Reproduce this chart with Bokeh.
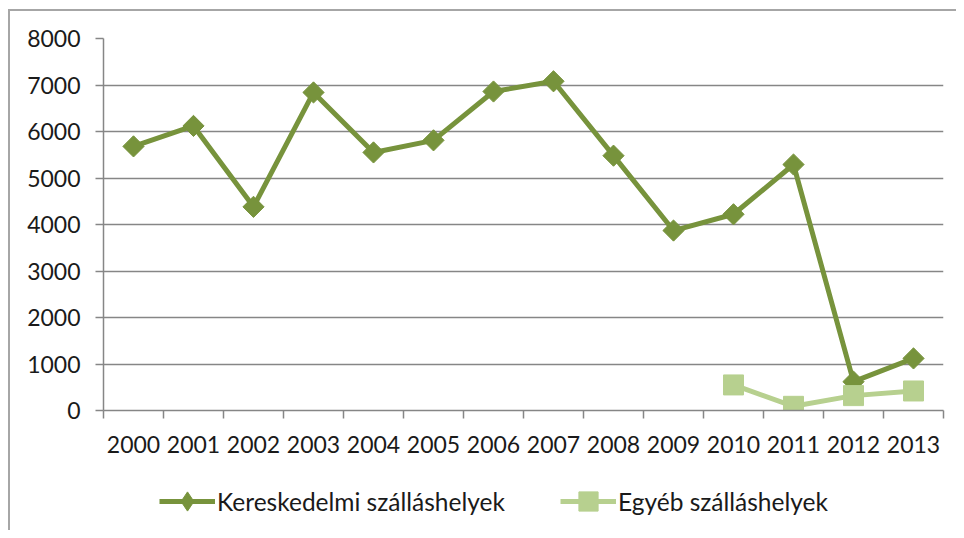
import math
from bokeh.plotting import figure
from bokeh.models import (ColumnDataSource, FixedTicker, Legend, LegendItem, Range1d)
from bokeh.layouts import column
from bokeh.embed import file_html
from bokeh.resources import INLINE

years = ["2000", "2001", "2002", "2003", "2004", "2005", "2006",
         "2007", "2008", "2009", "2010", "2011", "2012", "2013"]
kereskedelmi = [5680, 6120, 4380, 6840, 5550, 5810, 6860,
                7080, 5480, 3870, 4220, 5290, 620, 1120]
egyeb_years = ["2010", "2011", "2012", "2013"]
egyeb = [550, 90, 320, 420]
y_ticks = [0, 1000, 2000, 3000, 4000, 5000, 6000, 7000, 8000]
series_names = ["Kereskedelmi szálláshelyek", "Egyéb szálláshelyek"]

DARK = "#77933C"
LIGHT = "#B7D08F"
FONT = "Lato"
GRAY = "#868686"
TXT = "#1a1a1a"

idx = list(range(len(years)))
src1 = ColumnDataSource(dict(x=idx, y=kereskedelmi))
src2 = ColumnDataSource(dict(x=[years.index(y) for y in egyeb_years], y=egyeb))

W = 956
p = figure(width=W, height=470, output_backend="svg", toolbar_location=None,
           x_range=Range1d(-0.5, len(years) - 0.5), y_range=Range1d(0, 8000),
           min_border_left=103, min_border_right=13, min_border_top=38,
           min_border_bottom=60)
p.outline_line_color = None
p.background_fill_color = "white"
p.border_fill_alpha = 0

p.line("x", "y", source=src1, line_color=DARK, line_width=5)
p.scatter("x", "y", source=src1, marker="square", size=15, angle=math.pi / 4,
          fill_color=DARK, line_color=DARK)
p.line("x", "y", source=src2, line_color=LIGHT, line_width=5)
p.scatter("x", "y", source=src2, marker="square", size=20,
          fill_color=LIGHT, line_color=LIGHT)

xa = p.xaxis[0]
xa.ticker = FixedTicker(ticks=idx, minor_ticks=[i - 0.5 for i in range(len(years) + 1)])
xa.major_label_overrides = {i: y for i, y in enumerate(years)}
xa.major_tick_out = 0
xa.major_tick_in = 0
xa.minor_tick_out = 8
xa.minor_tick_in = 0
xa.minor_tick_line_color = GRAY
xa.minor_tick_line_width = 1.5
xa.axis_line_color = GRAY
xa.axis_line_width = 1.5
xa.major_label_text_font = FONT
xa.major_label_text_font_size = "23px"
xa.major_label_text_color = TXT
xa.major_label_standoff = 17

ya = p.yaxis[0]
ya.ticker = FixedTicker(ticks=y_ticks)
ya.major_tick_out = 8
ya.major_tick_in = 0
ya.minor_tick_out = 0
ya.minor_tick_in = 0
ya.major_tick_line_color = GRAY
ya.major_tick_line_width = 1.5
ya.axis_line_color = GRAY
ya.axis_line_width = 1.5
ya.major_label_text_font = FONT
ya.major_label_text_font_size = "23px"
ya.major_label_text_color = TXT
ya.major_label_standoff = 15

p.xgrid.grid_line_color = None
p.ygrid.ticker = FixedTicker(ticks=y_ticks)
p.ygrid.grid_line_color = GRAY
p.ygrid.grid_line_width = 1.5

# legend strip below the chart; its renderers share the data but the
# strip's ranges keep them out of view, so only the legend shows
q = figure(width=W, height=60, output_backend="svg", toolbar_location=None,
           x_range=Range1d(-100, -99), y_range=Range1d(-100, -99),
           x_axis_type=None, y_axis_type=None, min_border=0)
q.outline_line_color = None
q.background_fill_alpha = 0
q.border_fill_alpha = 0
k_l = q.line("x", "y", source=src1, line_color=DARK, line_width=5)
k_m = q.scatter("x", "y", source=src1, marker="diamond",
                fill_color=DARK, line_color=DARK)
e_l = q.line("x", "y", source=src2, line_color=LIGHT, line_width=5)
e_m = q.scatter("x", "y", source=src2, marker="square",
                fill_color=LIGHT, line_color=LIGHT)

legend = Legend(items=[
    LegendItem(label=series_names[0], renderers=[k_l, k_m]),
    LegendItem(label=series_names[1], renderers=[e_l, e_m]),
], orientation="horizontal", location=(56, 5), margin=0,
    padding=0, label_text_font=FONT, label_text_font_size="24.5px",
    label_text_color=TXT,
    glyph_width=56, glyph_height=48, spacing=55, label_standoff=2,
    border_line_color=None, background_fill_alpha=0)
q.add_layout(legend, "center")

layout = column(p, q, spacing=0)
layout.styles = {"box-shadow": "inset 8px 9px 0 0 white, inset 10px 11px 0 0 #A6A6A6",
                 "background-color": "white"}

open("out.html", "w").write(file_html(layout, INLINE))
